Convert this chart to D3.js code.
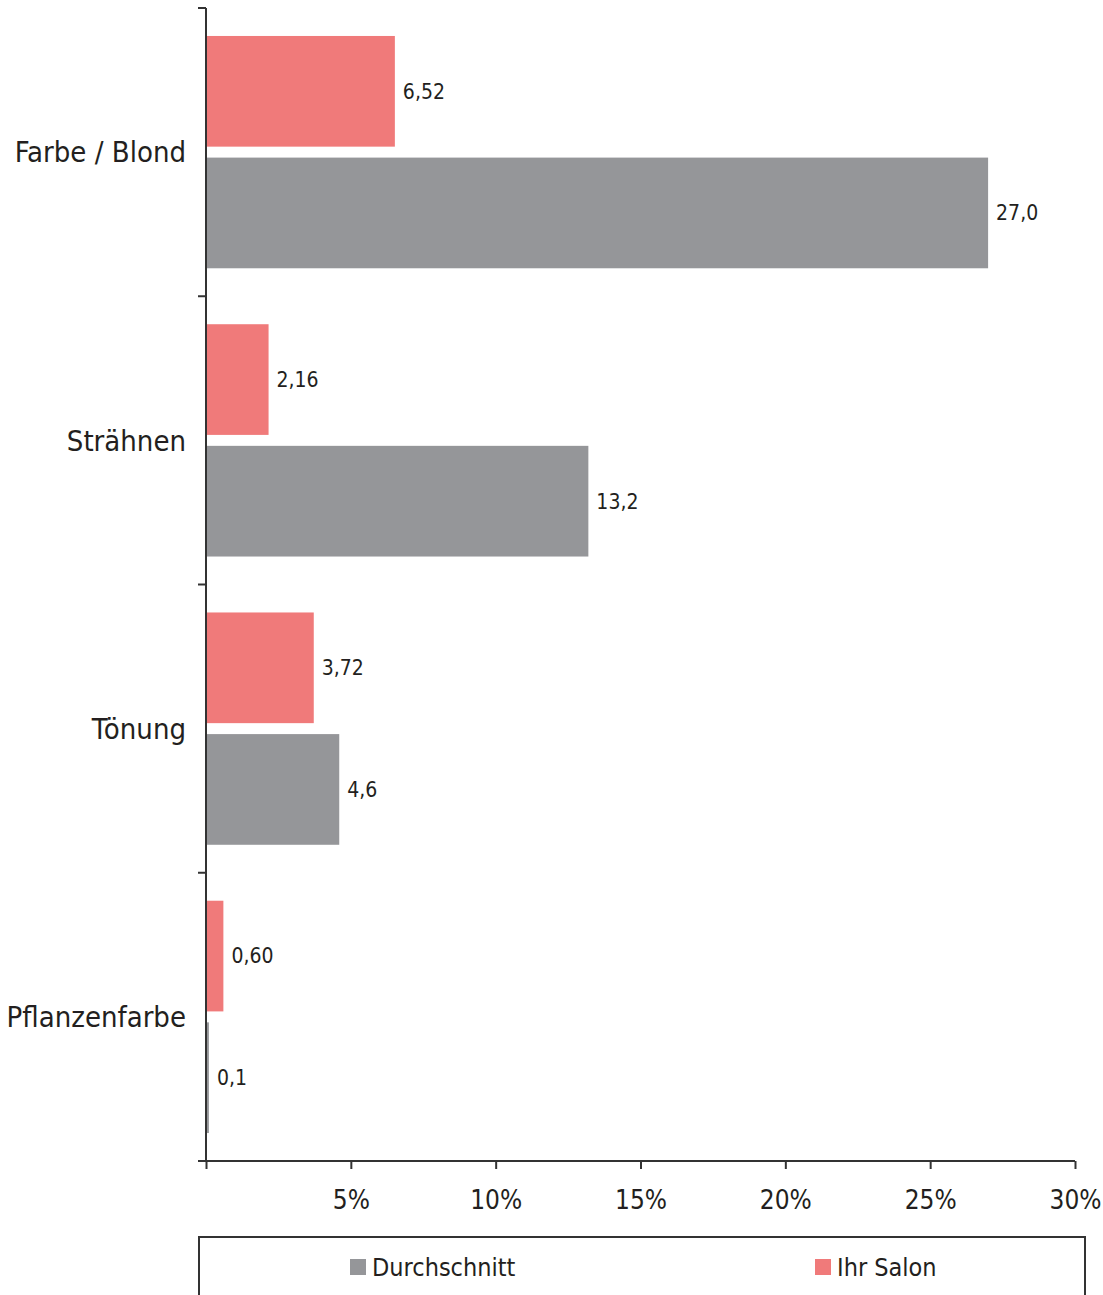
<!DOCTYPE html>
<html lang="de">
<head>
<meta charset="UTF-8">
<title>Farbe</title>
<script src="https://d3js.org/d3.v7.min.js"></script>
<style>
  body { margin: 0; background: #fff; }
  svg text { font-family: "DejaVu Sans Condensed", "DejaVu Sans", sans-serif; fill: #231f20; }
  .axis path, .axis line { stroke: #333; stroke-width: 2px; }
  .cat { font-size: 29px; }
  .val { font-size: 21px; }
  .tick text { font-size: 26px; }
  .leg { font-size: 25px; }
</style>
</head>
<body>
<svg id="chart" width="1103" height="1295"></svg>
<script>
// data
var categories = ["Farbe / Blond", "Strähnen", "Tönung", "Pflanzenfarbe"];
var series = ["Ihr Salon", "Durchschnitt"];
var ihrSalon = [6.52, 2.16, 3.72, 0.60];
var durchschnitt = [27.0, 13.2, 4.6, 0.1];
var ihrSalonLabels = ["6,52", "2,16", "3,72", "0,60"];
var durchschnittLabels = ["27,0", "13,2", "4,6", "0,1"];
var xTicks = [0, 5, 10, 15, 20, 25, 30];
var colors = { "Ihr Salon": "#f07a7a", "Durchschnitt": "#959699" };

var svg = d3.select("#chart");
var plotLeft = 206, plotRight = 1075, plotTop = 8, plotBottom = 1161;

var x = d3.scaleLinear().domain([0, 30]).range([plotLeft, plotRight]);
var y = d3.scaleBand().domain(categories).range([plotTop, plotBottom]).padding(0);
var ySub = d3.scaleBand().domain(series).range([0, y.bandwidth()])
    .paddingInner(0.09).paddingOuter(0.23);

var rows = categories.map(function(c, i) {
  return { cat: c, values: [
    { s: "Ihr Salon", v: ihrSalon[i], label: ihrSalonLabels[i] },
    { s: "Durchschnitt", v: durchschnitt[i], label: durchschnittLabels[i] }
  ]};
});

var g = svg.selectAll("g.row").data(rows).enter().append("g")
    .attr("class", "row")
    .attr("transform", function(d) { return "translate(0," + y(d.cat) + ")"; });

g.selectAll("rect").data(function(d) { return d.values; }).enter().append("rect")
    .attr("x", x(0))
    .attr("y", function(d) { return ySub(d.s); })
    .attr("width", function(d) { return x(d.v) - x(0); })
    .attr("height", ySub.bandwidth())
    .attr("fill", function(d) { return colors[d.s]; });

g.selectAll("text.val").data(function(d) { return d.values; }).enter().append("text")
    .attr("class", "val")
    .attr("x", function(d) { return x(d.v) + 8; })
    .attr("y", function(d) { return ySub(d.s) + ySub.bandwidth() / 2; })
    .attr("dy", "0.35em")
    .text(function(d) { return d.label; });

g.append("text")
    .attr("class", "cat")
    .attr("x", 186)
    .attr("y", y.bandwidth() / 2)
    .attr("dy", "0.35em")
    .attr("text-anchor", "end")
    .text(function(d) { return d.cat; });

// x axis
var xAxis = svg.append("g").attr("class", "axis")
    .attr("transform", "translate(0," + plotBottom + ")")
    .call(d3.axisBottom(x).tickValues(xTicks).tickSize(8).tickSizeOuter(0)
      .tickFormat(function(d) { return d === 0 ? "" : d + "%"; }));
xAxis.select(".domain").attr("d", "M198,0H" + plotRight);
xAxis.selectAll(".tick text").attr("y", 30).attr("dy", "0.71em");

// y axis with boundary ticks
var yAxis = svg.append("g").attr("class", "axis");
yAxis.append("line").attr("x1", plotLeft).attr("x2", plotLeft).attr("y1", plotTop).attr("y2", plotBottom);
var bounds = categories.map(function(c) { return y(c); }).concat([plotBottom]);
yAxis.selectAll("line.t").data(bounds).enter().append("line")
    .attr("class", "t")
    .attr("x1", 198).attr("x2", plotLeft)
    .attr("y1", function(d) { return d; }).attr("y2", function(d) { return d; });

// legend
svg.append("rect")
    .attr("x", 199).attr("y", 1237).attr("width", 886).attr("height", 80)
    .attr("fill", "none").attr("stroke", "#333").attr("stroke-width", 2);
var legendItems = [{ s: "Durchschnitt", x: 350 }, { s: "Ihr Salon", x: 815 }];
var lg = svg.selectAll("g.leg").data(legendItems).enter().append("g")
    .attr("transform", function(d) { return "translate(" + d.x + ",1259)"; });
lg.append("rect").attr("width", 16).attr("height", 16)
    .attr("fill", function(d) { return colors[d.s]; });
lg.append("text").attr("class", "leg").attr("x", 22).attr("y", 8).attr("dy", "0.35em")
    .text(function(d) { return d.s; });
</script>
</body>
</html>
